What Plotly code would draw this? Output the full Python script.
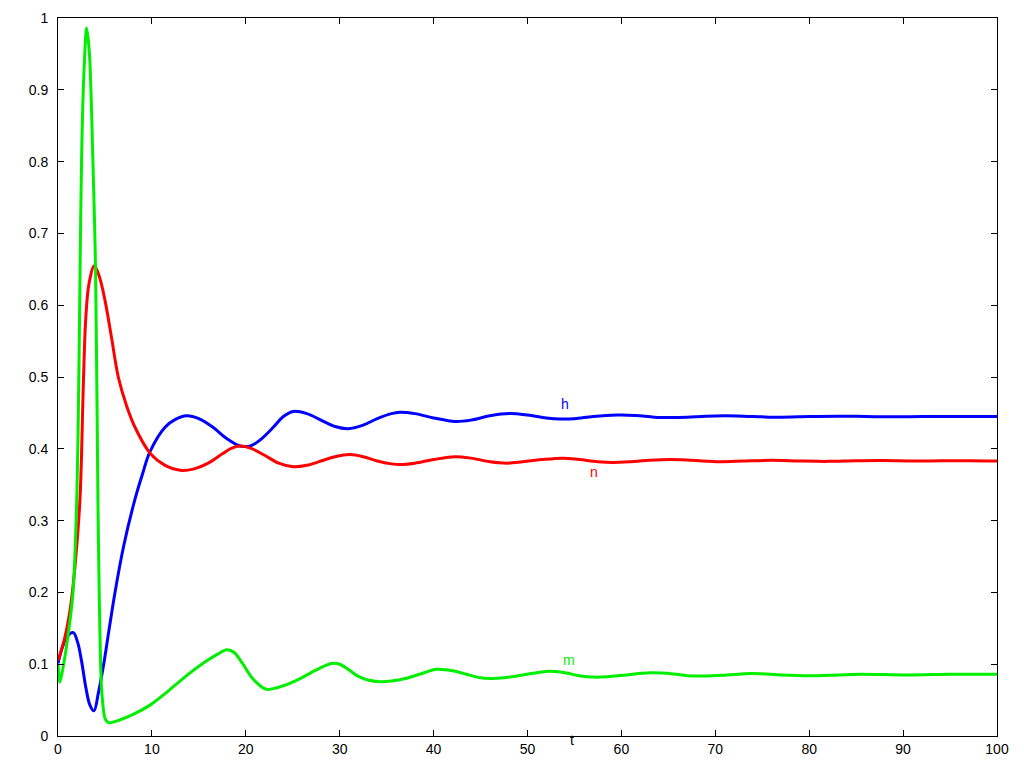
import plotly.graph_objects as go

# gating variables of the model
m_t = [0, 0.2, 0.56, 1.1, 1.6, 2.0, 2.2, 2.35, 2.52, 2.75, 3.05, 3.35, 3.7, 4.0,
       4.25, 4.4, 4.65, 5.0, 5.36, 6.5, 8.0, 9.8, 11.5, 13.3, 15.65, 17.0, 17.96,
       18.8, 19.7, 20.8, 22.2, 24.0, 25.8, 27.5, 29.1, 30.0, 31.0, 32.0, 33.0,
       34.3, 35.5, 37.0, 38.5, 40.3, 42.0, 43.5, 45.0, 46.0, 47.5, 49.5, 52.0,
       54.0, 55.5, 57.0, 58.5, 60.5, 63.0, 65.5, 67.0, 68.5, 70.5, 74.0, 77.0,
       80.0, 83.0, 85.5, 88.0, 91.0, 95.0, 100.0]
m_vals = [0.1, 0.075, 0.097, 0.143, 0.2, 0.33, 0.48, 0.65, 0.81, 0.92, 0.986,
          0.95, 0.81, 0.65, 0.33, 0.19, 0.064, 0.025, 0.0185, 0.022, 0.03, 0.043,
          0.060, 0.080, 0.103, 0.114, 0.120, 0.116, 0.100, 0.079, 0.065, 0.070,
          0.080, 0.092, 0.101, 0.100, 0.092, 0.083, 0.078, 0.0757, 0.0765, 0.080,
          0.086, 0.093, 0.091, 0.086, 0.081, 0.080, 0.081, 0.085, 0.090, 0.088,
          0.084, 0.082, 0.0825, 0.085, 0.088, 0.0865, 0.084, 0.0835, 0.0845,
          0.087, 0.085, 0.084, 0.085, 0.086, 0.0855, 0.085, 0.086, 0.086]

n_t = [0, 0.67, 1.28, 1.8, 2.34, 2.7, 2.95, 3.3, 3.87, 4.4, 5.0, 5.7, 6.42, 7.3,
       8.2, 9.8, 11.4, 13.0, 14.5, 16.0, 17.5, 18.5, 19.4, 20.5, 22.0, 23.5,
       25.06, 26.5, 28.0, 29.5, 31.1, 32.5, 34.0, 35.5, 36.4, 38.0, 40.0, 42.3,
       44.0, 46.0, 47.8, 49.5, 51.5, 53.8, 55.5, 57.5, 59.1, 61.0, 63.0, 65.2,
       67.5, 70.5, 73.0, 76.0, 79.0, 82.0, 85.0, 88.0, 91.0, 94.0, 97.0, 100.0]
n_vals = [0.105, 0.134, 0.175, 0.235, 0.33, 0.49, 0.58, 0.63, 0.655, 0.64, 0.607,
          0.555, 0.50, 0.46, 0.43, 0.394, 0.377, 0.370, 0.372, 0.380, 0.393,
          0.401, 0.404, 0.401, 0.391, 0.380, 0.375, 0.377, 0.383, 0.389, 0.392,
          0.389, 0.383, 0.379, 0.378, 0.380, 0.385, 0.389, 0.387, 0.382, 0.380,
          0.382, 0.385, 0.387, 0.385, 0.382, 0.381, 0.382, 0.384, 0.385, 0.384,
          0.382, 0.383, 0.384, 0.383, 0.3825, 0.3835, 0.3838, 0.383, 0.3832,
          0.3835, 0.383]

h_t = [0, 0.5, 1.0, 1.63, 2.1, 2.5, 3.0, 3.4, 3.83, 4.3, 4.83, 5.4, 6.07, 7.0,
       8.2, 9.0, 9.8, 11.4, 12.5, 13.7, 15.0, 16.5, 18.0, 19.4, 20.5, 21.5, 23.0,
       24.0, 25.06, 26.5, 28.0, 29.5, 30.9, 32.5, 34.0, 35.5, 36.4, 38.0, 40.0,
       42.3, 44.0, 46.0, 48.1, 50.0, 52.0, 53.5, 55.0, 57.0, 59.5, 61.5, 63.5,
       65.2, 67.0, 69.0, 71.0, 73.0, 75.0, 77.0, 80.0, 83.0, 86.0, 89.0, 92.0,
       95.0, 100.0]
h_vals = [0.101, 0.125, 0.139, 0.144, 0.13, 0.105, 0.065, 0.043, 0.035, 0.06,
          0.097, 0.145, 0.2, 0.265, 0.33, 0.365, 0.396, 0.43, 0.441, 0.446, 0.442,
          0.430, 0.414, 0.404, 0.404, 0.412, 0.431, 0.445, 0.452, 0.449, 0.440,
          0.431, 0.428, 0.433, 0.442, 0.449, 0.451, 0.449, 0.443, 0.438, 0.440,
          0.446, 0.449, 0.447, 0.443, 0.4415, 0.442, 0.445, 0.447, 0.4465, 0.444,
          0.4435, 0.444, 0.4455, 0.446, 0.4455, 0.4445, 0.444, 0.445, 0.4455,
          0.445, 0.4445, 0.445, 0.445, 0.445]

x_ticks = list(range(0, 101, 10))
y_ticks = [round(0.1 * i, 1) for i in range(11)]
y_tick_text = ["0", "0.1", "0.2", "0.3", "0.4", "0.5", "0.6", "0.7", "0.8", "0.9", "1"]

# name, times, values, colour, spline smoothing
series = [
    ("h", h_t, h_vals, "#0000ff", 1.0),
    ("n", n_t, n_vals, "#ff0000", 1.0),
    ("m", m_t, m_vals, "#00ee00", 0.8),
]

fig = go.Figure()
for name, t, vals, color, smooth in series:
    fig.add_trace(go.Scatter(
        x=t, y=vals, name=name, mode="lines",
        line=dict(color=color, width=3, shape="spline", smoothing=smooth),
    ))

font = dict(family="Liberation Sans, Arial, sans-serif", size=14, color="black")

# curve labels placed next to the lines, as in the original
labels = [("h", 54.0, 0.462, "#0000ff"), ("n", 57.1, 0.367, "#ff0000"),
          ("m", 54.4, 0.106, "#00ee00")]
for text, x, y, color in labels:
    fig.add_annotation(x=x, y=y, text=text, showarrow=False,
                       font=dict(family=font["family"], size=14, color=color))
fig.add_annotation(x=54.7, y=-0.02, yref="paper", text="t", showarrow=False,
                   font=font)

axis_common = dict(
    showgrid=False, zeroline=False, showline=True, linecolor="black",
    linewidth=1, mirror="allticks", ticks="inside", ticklen=6,
    tickcolor="black", tickfont=font, automargin=False,
)
fig.update_xaxes(range=[0, 100], tickvals=x_ticks, **axis_common)
fig.update_yaxes(range=[0, 1], tickvals=y_ticks, ticktext=y_tick_text,
                 ticklabelstandoff=6, **axis_common)

# the page body has an 8px margin, so the figure is kept a bit smaller
fig.update_layout(
    width=1008, height=752,
    margin=dict(l=50, r=19, t=10, b=24),
    plot_bgcolor="white", paper_bgcolor="white",
    showlegend=False, font=font,
)

fig.write_html("out.html")
